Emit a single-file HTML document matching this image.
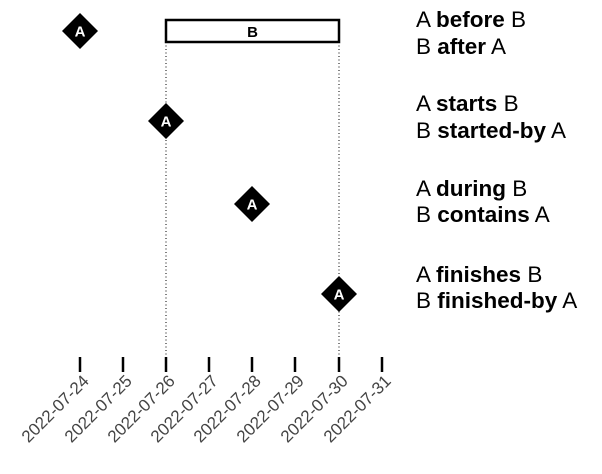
<!DOCTYPE html>
<html><head><meta charset="utf-8"><style>body{margin:0;background:#fff}</style></head><body>
<svg width="602" height="469" xmlns="http://www.w3.org/2000/svg" font-family="Liberation Sans, Arial, sans-serif">
<g stroke="#000" stroke-width="1" stroke-dasharray="1,2.5">
<line x1="166" y1="42" x2="166" y2="357"/>
<line x1="339" y1="42" x2="339" y2="357"/>
</g>
<rect x="166" y="20" width="173" height="22" fill="#fff" stroke="#000" stroke-width="2.5"/>
<text x="252.5" y="37" text-anchor="middle" font-weight="bold" font-size="15">B</text>
<g font-weight="bold" font-size="15" fill="#fff" text-anchor="middle">
<polygon points="80,13 98,31 80,49 62,31" fill="#000"/><text x="80" y="36.5">A</text>
<polygon points="166,103 184,121 166,139 148,121" fill="#000"/><text x="166" y="126.5">A</text>
<polygon points="252,186 270,204 252,222 234,204" fill="#000"/><text x="252" y="209.5">A</text>
<polygon points="339,276 357,294 339,312 321,294" fill="#000"/><text x="339" y="299.5">A</text>
</g>
<g stroke="#000" stroke-width="2.5">
<line x1="80" y1="357" x2="80" y2="372"/><line x1="123" y1="357" x2="123" y2="372"/>
<line x1="166" y1="357" x2="166" y2="372"/><line x1="209" y1="357" x2="209" y2="372"/>
<line x1="252" y1="357" x2="252" y2="372"/><line x1="295" y1="357" x2="295" y2="372"/>
<line x1="339" y1="357" x2="339" y2="372"/><line x1="382" y1="357" x2="382" y2="372"/>
</g>
<g font-size="17" fill="#444" text-anchor="end">
<text transform="translate(90,382) rotate(-45)">2022-07-24</text>
<text transform="translate(133,382) rotate(-45)">2022-07-25</text>
<text transform="translate(176,382) rotate(-45)">2022-07-26</text>
<text transform="translate(219,382) rotate(-45)">2022-07-27</text>
<text transform="translate(262,382) rotate(-45)">2022-07-28</text>
<text transform="translate(305,382) rotate(-45)">2022-07-29</text>
<text transform="translate(349,382) rotate(-45)">2022-07-30</text>
<text transform="translate(392,382) rotate(-45)">2022-07-31</text>
</g>
<g font-size="22.5" fill="#000">
<text x="416" y="27">A <tspan font-weight="bold">before</tspan> B</text>
<text x="416" y="54">B <tspan font-weight="bold">after</tspan> A</text>
<text x="416" y="111">A <tspan font-weight="bold">starts</tspan> B</text>
<text x="416" y="138">B <tspan font-weight="bold">started-by</tspan> A</text>
<text x="416" y="196">A <tspan font-weight="bold">during</tspan> B</text>
<text x="416" y="222">B <tspan font-weight="bold">contains</tspan> A</text>
<text x="416" y="282">A <tspan font-weight="bold">finishes</tspan> B</text>
<text x="416" y="308">B <tspan font-weight="bold">finished-by</tspan> A</text>
</g>
</svg>
</body></html>
